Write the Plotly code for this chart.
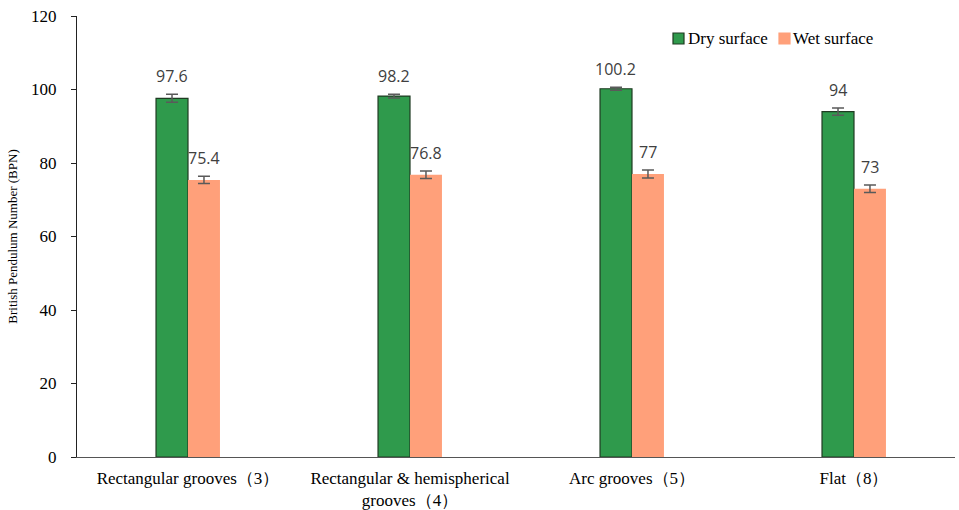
import plotly.graph_objects as go

# Surface textures and measured BPN values
categories = ["Rectangular grooves（3）",
              "Rectangular & hemispherical<br>grooves（4）",
              "Arc grooves（5）",
              "Flat（8）"]
series_names = ["Dry surface", "Wet surface"]
dry_values = [97.6, 98.2, 100.2, 94]
wet_values = [75.4, 76.8, 77, 73]
dry_errors = [1.1, 0.5, 0.4, 1.0]
wet_errors = [1.0, 1.0, 1.1, 1.0]
y_ticks = [0, 20, 40, 60, 80, 100, 120]

DRY = "#2f9a4c"
WET = "#ffa07a"
ERR = "#5a5a5a"
SERIF = "Liberation Serif, Times New Roman, serif"
SANS = "Open Sans, Calibri, sans-serif"

W, H = 959, 510
M = dict(l=77, r=4, t=16, b=53)
PW, PH = W - M["l"] - M["r"], H - M["t"] - M["b"]


def px_to_paper(px, py):
    return (px - M["l"]) / PW, 1 - (py - M["t"]) / PH


x_pos = list(range(len(categories)))

fig = go.Figure()
fig.add_trace(go.Bar(
    name=series_names[0], x=x_pos, y=dry_values,
    marker=dict(color=DRY, line=dict(color="#1f3b22", width=1.2)),
    error_y=dict(type="data", array=dry_errors, color=ERR, thickness=1.5, width=6),
))
fig.add_trace(go.Bar(
    name=series_names[1], x=x_pos, y=wet_values,
    marker=dict(color=WET, line=dict(color=WET, width=0)),
    error_y=dict(type="data", array=wet_errors, color=ERR, thickness=1.5, width=6),
))

# value labels above each bar
for i, (d, w) in enumerate(zip(dry_values, wet_values)):
    for val, err, shift in ((d, dry_errors[i], -16), (w, wet_errors[i], 16)):
        fig.add_annotation(
            x=i, y=val + err, xshift=shift, yshift=5,
            text=f"{val:g}", showarrow=False, yanchor="bottom",
            font=dict(family=SANS, size=16, color="#404040"),
        )

# compact legend: small square swatch right next to each label
legend_items = [
    (series_names[0], DRY, "#1f3b22", 673, 686),
    (series_names[1], WET, WET, 779, 791),
]
for name, fill, edge, sx, tx in legend_items:
    x0, y0 = px_to_paper(sx, 44)
    x1, y1 = px_to_paper(sx + 11, 33)
    fig.add_shape(type="rect", xref="paper", yref="paper",
                  x0=x0, y0=y0, x1=x1, y1=y1,
                  fillcolor=fill, line=dict(color=edge, width=1.2))
    tx_p, ty_p = px_to_paper(tx, 38.5)
    fig.add_annotation(xref="paper", yref="paper", x=tx_p, y=ty_p,
                       text=name, showarrow=False, xanchor="left",
                       yanchor="middle",
                       font=dict(family=SERIF, size=17, color="black"))

fig.update_layout(
    width=W, height=H,
    margin=M,
    paper_bgcolor="white", plot_bgcolor="white",
    barmode="group", bargap=0.712, bargroupgap=0,
    font=dict(family=SERIF, color="black"),
    showlegend=False,
)
fig.update_xaxes(
    tickmode="array", tickvals=x_pos, ticktext=categories,
    range=[-0.5, 3.455], showline=True, linecolor="#555555", linewidth=1.2,
    ticks="", tickfont=dict(family=SERIF, size=17, color="black"),
    ticklabelstandoff=5,
    showgrid=False, zeroline=False, automargin=False,
)
fig.update_yaxes(
    range=[0, 120], tickvals=y_ticks, showline=True, linecolor="#222222",
    linewidth=1.2, ticks="outside", ticklen=5, tickcolor="#222222",
    tickfont=dict(family=SERIF, size=17, color="black"),
    ticklabelstandoff=11,
    title=dict(text="British Pendulum Number (BPN)",
               font=dict(family=SERIF, size=13, color="black"), standoff=10),
    showgrid=False, zeroline=False, automargin=False,
)

fig.write_html("out.html")
